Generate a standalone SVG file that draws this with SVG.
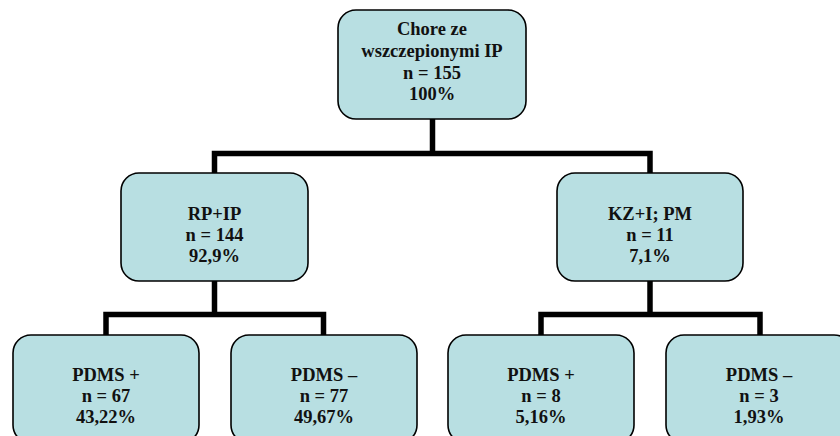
<svg xmlns="http://www.w3.org/2000/svg" width="840" height="436" viewBox="0 0 840 436">
<style>
.box{fill:#b8dfe2;stroke:#000;stroke-width:1.6}
.conn{fill:none;stroke:#000;stroke-width:5.5;stroke-linejoin:miter}
text{font-family:"Liberation Serif","Times New Roman",serif;font-weight:bold;font-size:18.5px;text-anchor:middle;fill:#111}
</style>
<rect width="840" height="436" fill="#fff"/>
<g id="connectors">
<path class="conn" d="M432.5,119 V153.5"/>
<path class="conn" d="M214.5,174 V153.5 H650 V174"/>
<path class="conn" d="M214.5,281 V314.5"/>
<path class="conn" d="M106,336 V314.5 H323.5 V336"/>
<path class="conn" d="M650,281 V314.5"/>
<path class="conn" d="M541,336 V314.5 H760 V336"/>
</g>
<g id="root">
<rect class="box" x="338" y="10" width="188" height="109" rx="18"/>
<text x="432" y="35">Chore ze</text>
<text x="432" y="57">wszczepionymi IP</text>
<text x="432" y="78.5">n = 155</text>
<text x="432" y="100">100%</text>
</g>
<g id="rp_ip">
<rect class="box" x="121" y="173" width="187" height="108" rx="18"/>
<text x="214.5" y="220">RP+IP</text>
<text x="214.5" y="241">n = 144</text>
<text x="214.5" y="262">92,9%</text>
</g>
<g id="kz_pm">
<rect class="box" x="557" y="173" width="186" height="108" rx="18"/>
<text x="650" y="220">KZ+I; PM</text>
<text x="650" y="241">n = 11</text>
<text x="650" y="262">7,1%</text>
</g>
<g id="rp_pdms_plus">
<rect class="box" x="13" y="335" width="186" height="108" rx="18"/>
<text x="106" y="381">PDMS +</text>
<text x="106" y="402">n = 67</text>
<text x="106" y="423">43,22%</text>
</g>
<g id="rp_pdms_minus">
<rect class="box" x="231" y="335" width="186" height="108" rx="18"/>
<text x="324" y="381">PDMS –</text>
<text x="324" y="402">n = 77</text>
<text x="324" y="423">49,67%</text>
</g>
<g id="kz_pdms_plus">
<rect class="box" x="448" y="335" width="186" height="108" rx="18"/>
<text x="541" y="381">PDMS +</text>
<text x="541" y="402">n = 8</text>
<text x="541" y="423">5,16%</text>
</g>
<g id="kz_pdms_minus">
<rect class="box" x="666" y="335" width="186" height="108" rx="18"/>
<text x="759" y="381">PDMS –</text>
<text x="759" y="402">n = 3</text>
<text x="759" y="423">1,93%</text>
</g>
</svg>
